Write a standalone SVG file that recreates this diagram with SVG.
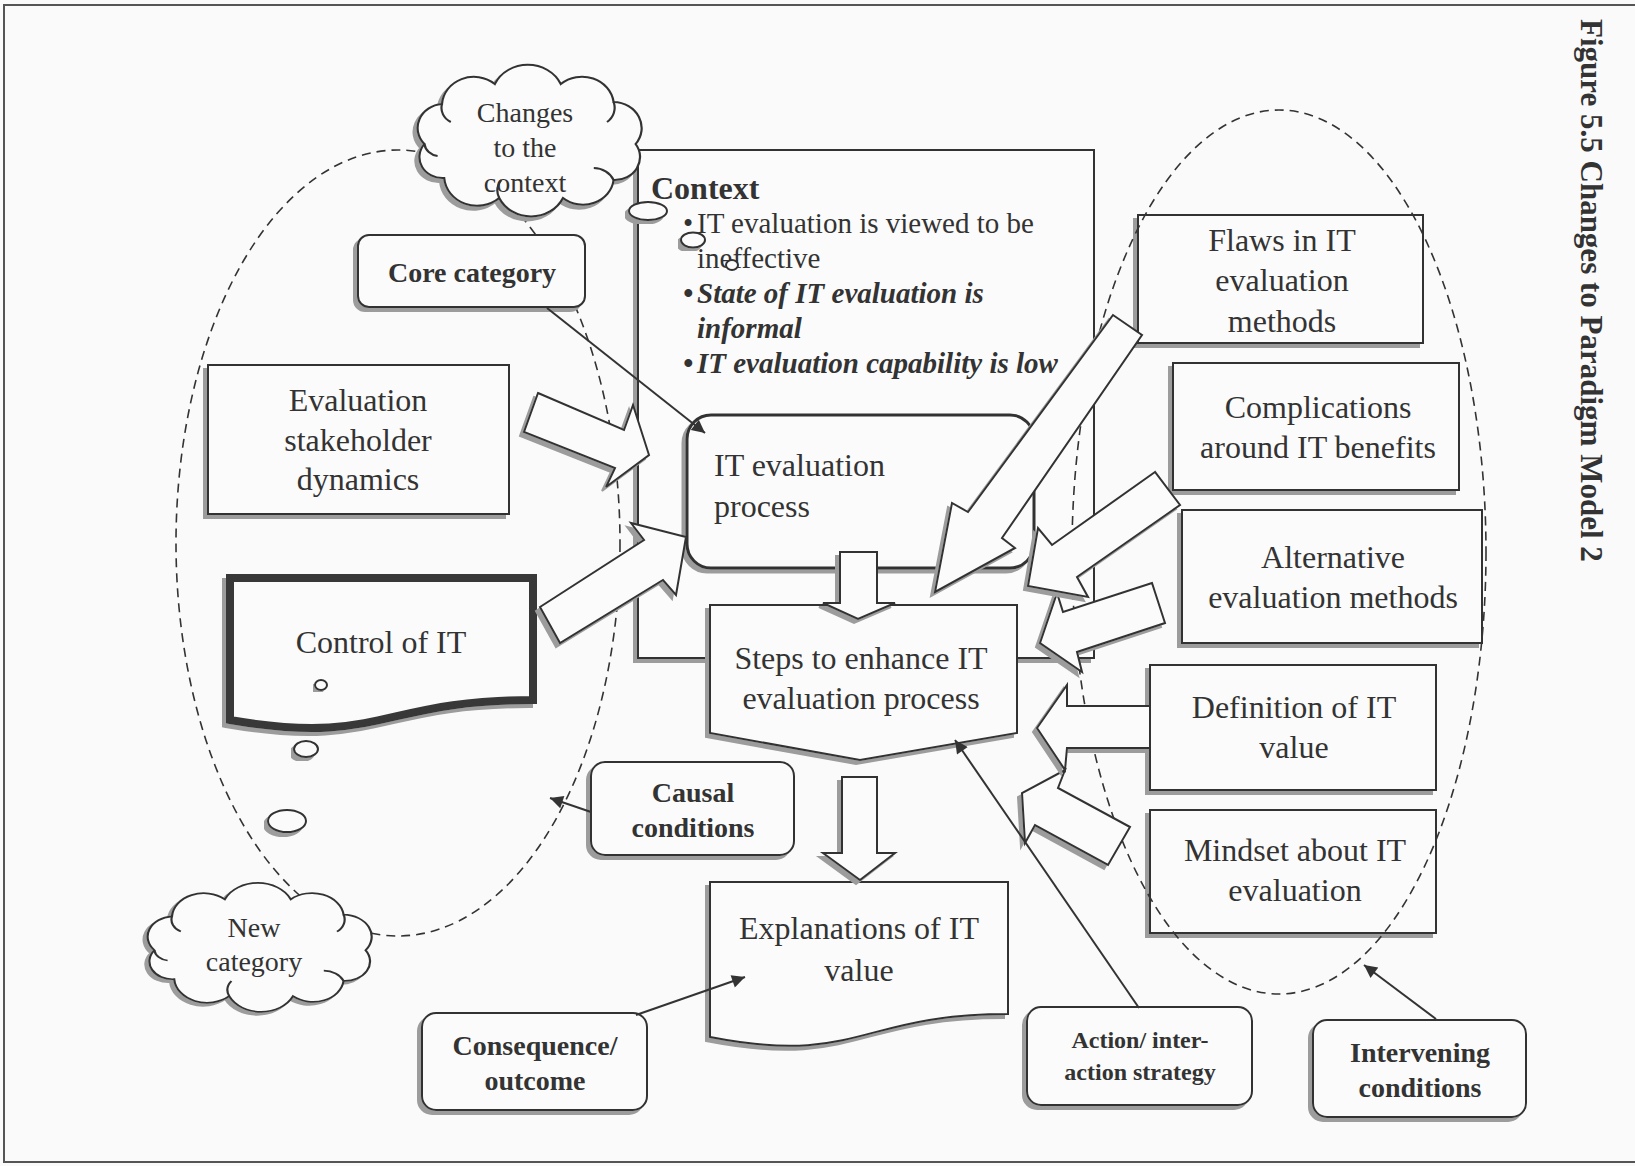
<svg xmlns="http://www.w3.org/2000/svg" xmlns:xlink="http://www.w3.org/1999/xlink" width="1635" height="1166" viewBox="0 0 1635 1166">
  <defs>
    <style>
      .bg { fill: #fafafa; }
      .frame { fill: none; stroke: #555; stroke-width: 2; }
      .box { fill: #fbfbfb; stroke: #333; stroke-width: 2; }
      .thick { fill: #fbfbfb; stroke: #383838; stroke-width: 8; }
      .proc { fill: #fbfbfb; stroke: #333; stroke-width: 3; }
      .region { fill: none; stroke: #333; stroke-width: 1.6; stroke-dasharray: 9 6; }
      .blk { fill: #fbfbfb; stroke: #333; stroke-width: 2; stroke-linejoin: miter; }
      .conn { fill: none; stroke: #333; stroke-width: 2; }
      .inner { fill: none; stroke: #333; stroke-width: 2; }
      .bub { fill: #fbfbfb; stroke: #333; stroke-width: 2; }
      text { font-family: "Liberation Serif", "Times New Roman", serif; fill: #333; }
      .n { font-size: 32px; text-anchor: middle; }
      .nl { font-size: 32px; }
      .lab { font-size: 28px; font-weight: bold; text-anchor: middle; }
      .labs { font-size: 24px; font-weight: bold; text-anchor: middle; }
      .cl { font-size: 28px; text-anchor: middle; }
      .ctx { font-size: 29px; }
      .ctx-head { font-size: 32px; font-weight: bold; }
      .bi { font-weight: bold; font-style: italic; }
      .title { font-size: 31px; font-weight: bold; }
    </style>
    <filter id="shadow" x="-10%" y="-10%" width="125%" height="130%">
      <feOffset in="SourceAlpha" dx="-4" dy="4" result="off"/>
      <feFlood flood-color="#9c9c9c"/>
      <feComposite in2="off" operator="in"/>
      <feMerge>
        <feMergeNode/>
        <feMergeNode in="SourceGraphic"/>
      </feMerge>
    </filter>
    <marker id="ah" viewBox="0 0 10 10" refX="10" refY="5" markerWidth="18" markerHeight="13" markerUnits="userSpaceOnUse" orient="auto">
      <path d="M0,0 L10,5 L0,10 z" fill="#333"/>
    </marker>
    <!-- cloud outline, about 200x152 before scaling -->
    <path id="cloud" d="M14,78 A24,24 0 0 1 30,38 A29,29 0 0 1 78,18 A33,33 0 0 1 138,18 A29,29 0 0 1 186,36 A26,26 0 0 1 206,78 A23,23 0 0 1 186,114 A28,28 0 0 1 140,132 A32,32 0 0 1 82,132 A30,30 0 0 1 32,112 A21,21 0 0 1 14,78 Z"/>
    <path id="cloud-in" d="M30,38 A16,16 0 0 0 38,56 M186,36 A18,18 0 0 1 180,56 M186,114 A20,20 0 0 0 168,102 M82,132 A18,18 0 0 1 84,114 M14,78 A14,14 0 0 0 26,90"/>
  </defs>

  <!-- page -->
  <rect class="bg" x="0" y="0" width="1635" height="1166"/>
  <path class="frame" d="M1640,5 H4 V1162 H1640"/>

  <text class="title" transform="translate(1581,19) rotate(90)">Figure 5.5 Changes to Paradigm Model 2</text>

  <!-- context frame -->
  <g id="context">
    <rect class="box" x="638" y="150" width="456" height="508" filter="url(#shadow)"/>
    <text class="ctx-head" x="651" y="199">Context</text>
    <text class="ctx" x="683" y="233">•<tspan x="697">IT evaluation is viewed to be</tspan></text>
    <text class="ctx" x="697" y="268">ineffective</text>
    <text class="ctx bi" x="683" y="303">•<tspan x="697">State of IT evaluation is</tspan></text>
    <text class="ctx bi" x="697" y="338">informal</text>
    <text class="ctx bi" x="683" y="373">•<tspan x="697">IT evaluation capability is low</tspan></text>
  </g>

  <!-- causal conditions -->
  <g id="eval-stakeholder">
    <rect class="box" x="208" y="365" width="301" height="149" filter="url(#shadow)"/>
    <text class="n" x="358" y="411">Evaluation</text>
    <text class="n" x="358" y="451">stakeholder</text>
    <text class="n" x="358" y="490">dynamics</text>
  </g>
  <g id="control-it">
    <path class="thick" d="M230,578 H533 V700 C381,700 381,746 230,720 Z" filter="url(#shadow)"/>
    <text class="n" x="381" y="653">Control of IT</text>
  </g>

  <!-- phenomenon and consequences -->
  <g id="it-eval-process">
    <rect class="proc" x="687" y="415" width="347" height="153" rx="24" filter="url(#shadow)"/>
    <text class="nl" x="714" y="476">IT evaluation</text>
    <text class="nl" x="714" y="517">process</text>
  </g>
  <g id="steps">
    <path class="box" d="M710,605 H1017 V733 L860,760 L710,733 Z" filter="url(#shadow)"/>
    <text class="n" x="861" y="669">Steps to enhance IT</text>
    <text class="n" x="861" y="709">evaluation process</text>
  </g>
  <g id="explanations">
    <path class="box" d="M710,882 H1008 V1014 C859,1014 859,1066 710,1037 Z" filter="url(#shadow)"/>
    <text class="n" x="859" y="939">Explanations of IT</text>
    <text class="n" x="859" y="981">value</text>
  </g>

  <!-- intervening conditions -->
  <g id="flaws">
    <rect class="box" x="1138" y="215" width="285" height="128" filter="url(#shadow)"/>
    <text class="n" x="1282" y="251">Flaws in IT</text>
    <text class="n" x="1282" y="291">evaluation</text>
    <text class="n" x="1282" y="332">methods</text>
  </g>
  <g id="complications">
    <rect class="box" x="1173" y="363" width="286" height="127" filter="url(#shadow)"/>
    <text class="n" x="1318" y="418">Complications</text>
    <text class="n" x="1318" y="458">around IT benefits</text>
  </g>
  <g id="alternative">
    <rect class="box" x="1182" y="510" width="300" height="133" filter="url(#shadow)"/>
    <text class="n" x="1333" y="568">Alternative</text>
    <text class="n" x="1333" y="608">evaluation methods</text>
  </g>
  <g id="definition">
    <rect class="box" x="1150" y="665" width="286" height="125" filter="url(#shadow)"/>
    <text class="n" x="1294" y="718">Definition of IT</text>
    <text class="n" x="1294" y="758">value</text>
  </g>
  <g id="mindset">
    <rect class="box" x="1150" y="810" width="286" height="123" filter="url(#shadow)"/>
    <text class="n" x="1295" y="861">Mindset about IT</text>
    <text class="n" x="1295" y="901">evaluation</text>
  </g>

  <!-- dashed category regions -->
  <g id="regions">
    <ellipse class="region" cx="398" cy="543" rx="222" ry="393"/>
    <ellipse class="region" cx="1279" cy="552" rx="207" ry="442"/>
  </g>

  <!-- paradigm labels -->
  <g id="core-category">
    <rect class="box" x="358" y="235" width="227" height="72" rx="11" filter="url(#shadow)"/>
    <text class="lab" x="472" y="282">Core category</text>
  </g>
  <g id="causal-conditions">
    <rect class="box" x="591" y="762" width="203" height="93" rx="14" filter="url(#shadow)"/>
    <text class="lab" x="693" y="802">Causal</text>
    <text class="lab" x="693" y="837">conditions</text>
  </g>
  <g id="consequence">
    <rect class="box" x="422" y="1013" width="225" height="97" rx="14" filter="url(#shadow)"/>
    <text class="lab" x="535" y="1055">Consequence/</text>
    <text class="lab" x="535" y="1090">outcome</text>
  </g>
  <g id="action-strategy">
    <rect class="box" x="1027" y="1007" width="225" height="98" rx="14" filter="url(#shadow)"/>
    <text class="labs" x="1140" y="1048">Action/ inter-</text>
    <text class="labs" x="1140" y="1080">action strategy</text>
  </g>
  <g id="intervening">
    <rect class="box" x="1313" y="1020" width="213" height="97" rx="14" filter="url(#shadow)"/>
    <text class="lab" x="1420" y="1062">Intervening</text>
    <text class="lab" x="1420" y="1097">conditions</text>
  </g>

  <g id="connectors">
    <!-- block arrows -->
    <polygon class="blk" filter="url(#shadow)" points="538,393 624,430 633,405 649,455 606,487 615,468 524,432"/>
    <polygon class="blk" filter="url(#shadow)" points="540,607 644,540 631,523 686,537 676,595 663,580 560,643"/>
    <polygon class="blk" filter="url(#shadow)" points="840,552 877,552 877,603 895,603 858,619 823,603 840,603"/>
    <polygon class="blk" filter="url(#shadow)" points="842,777 877,777 877,853 895,853 860,880 823,853 842,853"/>
    <polygon class="blk" filter="url(#shadow)" points="1152,583 1063,612 1057,593 1040,643 1082,672 1077,652 1165,623"/>
    <polygon class="blk" filter="url(#shadow)" points="1130,827 1058,788 1065,770 1022,793 1025,843 1035,825 1108,865"/>
    <polygon class="blk" filter="url(#shadow)" points="1150,706 1067,706 1067,685 1037,728 1065,770 1067,748 1150,748"/>
    <polygon class="blk" filter="url(#shadow)" points="1155,472 1052,545 1038,528 1028,586 1088,597 1077,577 1180,505"/>
    <polygon class="blk" filter="url(#shadow)" points="1113,315 968,512 952,503 935,592 1015,548 1002,538 1142,335"/>
    <!-- label pointers -->
    <line class="conn" x1="547" y1="308" x2="705" y2="433" marker-end="url(#ah)"/>
    <line class="conn" x1="591" y1="812" x2="550" y2="798" marker-end="url(#ah)"/>
    <line class="conn" x1="636" y1="1015" x2="745" y2="977" marker-end="url(#ah)"/>
    <line class="conn" x1="1139" y1="1008" x2="955" y2="740" marker-end="url(#ah)"/>
    <line class="conn" x1="1436" y1="1019" x2="1364" y2="965" marker-end="url(#ah)"/>
  </g>

  <!-- thought clouds -->
  <g id="cloud-context">
    <use xlink:href="#cloud" class="bub" transform="translate(409,66) scale(1.1,1)" filter="url(#shadow)"/>
    <use xlink:href="#cloud-in" class="inner" transform="translate(409,66) scale(1.1,1)"/>
    <text class="cl" x="525" y="122">Changes</text>
    <text class="cl" x="525" y="157">to the</text>
    <text class="cl" x="525" y="192">context</text>
    <ellipse class="bub" cx="648" cy="211" rx="19" ry="9" filter="url(#shadow)"/>
    <ellipse class="bub" cx="693" cy="240" rx="12" ry="7.5" filter="url(#shadow)"/>
    <ellipse class="bub" cx="732" cy="265" rx="6" ry="5"/>
  </g>
  <g id="cloud-new">
    <use xlink:href="#cloud" class="bub" transform="translate(139,884) scale(1.1,0.85)" filter="url(#shadow)"/>
    <use xlink:href="#cloud-in" class="inner" transform="translate(139,884) scale(1.1,0.85)"/>
    <text class="cl" x="254" y="937">New</text>
    <text class="cl" x="254" y="971">category</text>
    <ellipse class="bub" cx="287" cy="821" rx="19" ry="11" filter="url(#shadow)"/>
    <ellipse class="bub" cx="306" cy="749" rx="12" ry="8" filter="url(#shadow)"/>
    <ellipse class="bub" cx="321" cy="685" rx="6" ry="5" filter="url(#shadow)"/>
  </g>
</svg>
